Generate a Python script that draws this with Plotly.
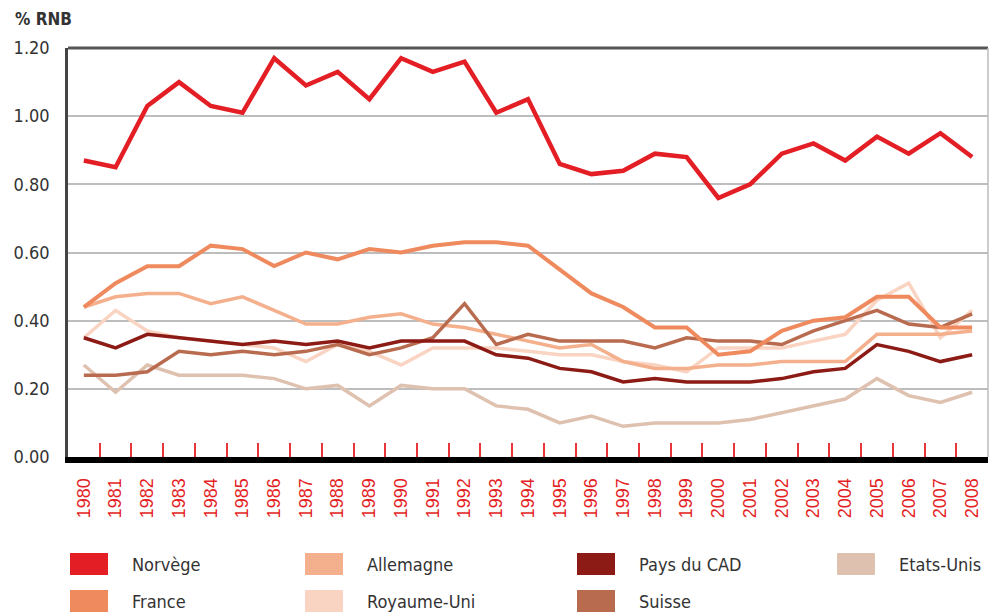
import plotly.graph_objects as go

years = [str(y) for y in range(1980, 2009)]

norvege = [0.87, 0.85, 1.03, 1.10, 1.03, 1.01, 1.17, 1.09, 1.13, 1.05, 1.17, 1.13, 1.16, 1.01, 1.05,
           0.86, 0.83, 0.84, 0.89, 0.88, 0.76, 0.80, 0.89, 0.92, 0.87, 0.94, 0.89, 0.95, 0.88]
france = [0.44, 0.51, 0.56, 0.56, 0.62, 0.61, 0.56, 0.60, 0.58, 0.61, 0.60, 0.62, 0.63, 0.63, 0.62,
          0.55, 0.48, 0.44, 0.38, 0.38, 0.30, 0.31, 0.37, 0.40, 0.41, 0.47, 0.47, 0.38, 0.38]
allemagne = [0.44, 0.47, 0.48, 0.48, 0.45, 0.47, 0.43, 0.39, 0.39, 0.41, 0.42, 0.39, 0.38, 0.36, 0.34,
             0.32, 0.33, 0.28, 0.26, 0.26, 0.27, 0.27, 0.28, 0.28, 0.28, 0.36, 0.36, 0.36, 0.37]
royaume_uni = [0.35, 0.43, 0.37, 0.35, 0.34, 0.33, 0.32, 0.28, 0.33, 0.31, 0.27, 0.32, 0.32, 0.32, 0.31,
               0.30, 0.30, 0.28, 0.27, 0.25, 0.32, 0.32, 0.32, 0.34, 0.36, 0.46, 0.51, 0.35, 0.43]
pays_cad = [0.35, 0.32, 0.36, 0.35, 0.34, 0.33, 0.34, 0.33, 0.34, 0.32, 0.34, 0.34, 0.34, 0.30, 0.29,
            0.26, 0.25, 0.22, 0.23, 0.22, 0.22, 0.22, 0.23, 0.25, 0.26, 0.33, 0.31, 0.28, 0.30]
suisse = [0.24, 0.24, 0.25, 0.31, 0.30, 0.31, 0.30, 0.31, 0.33, 0.30, 0.32, 0.35, 0.45, 0.33, 0.36,
          0.34, 0.34, 0.34, 0.32, 0.35, 0.34, 0.34, 0.33, 0.37, 0.40, 0.43, 0.39, 0.38, 0.42]
etats_unis = [0.27, 0.19, 0.27, 0.24, 0.24, 0.24, 0.23, 0.20, 0.21, 0.15, 0.21, 0.20, 0.20, 0.15, 0.14,
              0.10, 0.12, 0.09, 0.10, 0.10, 0.10, 0.11, 0.13, 0.15, 0.17, 0.23, 0.18, 0.16, 0.19]

y_ticks = [0.0, 0.2, 0.4, 0.6, 0.8, 1.0, 1.2]

# name, values, colour, width  (drawing order: first drawn at the back)
series = [
    ("Etats-Unis", etats_unis, "#DFC1B0", 3.5),
    ("Royaume-Uni", royaume_uni, "#FAD4C2", 3.5),
    ("Allemagne", allemagne, "#F4B08C", 3.5),
    ("Suisse", suisse, "#B96B4F", 3.5),
    ("Pays du CAD", pays_cad, "#8C1A15", 3.5),
    ("France", france, "#EF8A5E", 4),
    ("Norvège", norvege, "#E41E25", 4.5),
]

W, H = 991, 615
L, R, T, B = 68, 988, 48, 457

fig = go.Figure()
for name, vals, col, w in series:
    fig.add_trace(go.Scatter(x=years, y=vals, mode="lines", name=name,
                             line=dict(color=col, width=w), showlegend=False))

narrow = "Liberation Sans Narrow, DejaVu Sans Condensed, Arial Narrow, sans-serif"


def px(x):
    return (x - L) / (R - L)


def py(y):
    return (B - y) / (B - T)


shapes = [
    dict(type="line", xref="paper", yref="paper", x0=0, x1=1, y0=1, y1=1,
         line=dict(color="#555555", width=3)),
    dict(type="line", xref="paper", yref="paper", x0=1, x1=1, y0=0, y1=1,
         line=dict(color="#BBBBBB", width=1.5)),
]
annotations = [
    dict(text="<b>% RNB</b>", xref="paper", yref="paper", x=px(13), y=py(19),
         xanchor="left", yanchor="middle", showarrow=False,
         font=dict(family=narrow, size=17, color="#333333")),
]

legend_layout = [
    ("Norvège", 0, 0), ("Allemagne", 1, 0), ("Pays du CAD", 2, 0), ("Etats-Unis", 3, 0),
    ("France", 0, 1), ("Royaume-Uni", 1, 1), ("Suisse", 2, 1),
]
col_x = [70, 305, 577, 837]
row_y = [564, 601]
colors = {s[0]: s[2] for s in series}
for name, c, r in legend_layout:
    x0 = col_x[c]
    yc = row_y[r]
    shapes.append(dict(type="rect", xref="paper", yref="paper",
                       x0=px(x0), x1=px(x0 + 38), y0=py(yc + 11), y1=py(yc - 11),
                       fillcolor=colors[name], line=dict(width=0)))
    annotations.append(dict(text=name, xref="paper", yref="paper", x=px(x0 + 60), y=py(yc),
                            xanchor="left", yanchor="middle", showarrow=False,
                            font=dict(family=narrow, size=18, color="#333333")))

fig.update_layout(
    width=W, height=H,
    margin=dict(l=L, r=W - R, t=T, b=H - B),
    paper_bgcolor="white", plot_bgcolor="white",
    shapes=shapes, annotations=annotations,
    xaxis=dict(type="category", categoryorder="array", categoryarray=years,
               range=[-0.5, 28.5], tickson="boundaries", ticks="inside", ticklen=14,
               tickwidth=2, tickcolor="#E8353A", tickangle=-90,
               tickfont=dict(family="Liberation Sans, Arial, sans-serif", size=18, color="#E41E25"),
               showline=True, linecolor="black", linewidth=6, showgrid=False,
               ticklabelstandoff=8, fixedrange=True),
    yaxis=dict(range=[0, 1.2], tickvals=y_ticks, tickformat=".2f",
               showgrid=True, gridcolor="#BDBDBD", gridwidth=2,
               showline=True, linecolor="#444444", linewidth=2.5,
               ticks="", ticklabelstandoff=12, zeroline=False,
               tickfont=dict(family=narrow, size=18, color="#333333"),
               fixedrange=True),
)
fig.update_yaxes(tickprefix="<b>", ticksuffix="</b>")

fig.write_html("out.html",
               post_script="document.body.style.margin='0';document.body.style.padding='0';",
               config={"displayModeBar": False})
